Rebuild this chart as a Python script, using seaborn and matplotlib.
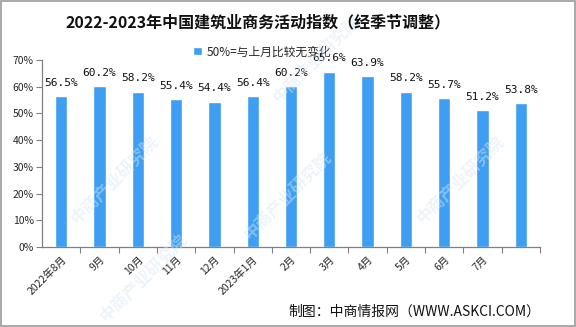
import matplotlib
matplotlib.use("Agg")
import matplotlib.pyplot as plt
import seaborn as sns
import pandas as pd

months = ["2022年8月", "9月", "10月", "11月", "12月", "2023年1月", "2月", "3月",
          "4月", "5月", "6月", "7月", ""]
values = [56.5, 60.2, 58.2, 55.4, 54.4, 56.4, 60.2, 65.6, 63.9, 58.2, 55.7, 51.2, 53.8]
labels = [f"{v}%" for v in values]

sns.set_theme(style="white")
plt.rcParams['font.family'] = ['Noto Sans CJK SC', 'DejaVu Sans']

fig = plt.figure(figsize=(5.76, 3.27), dpi=100)
ax = fig.add_axes([0.0729, 0.2446, 0.8646, 0.5719])

cats = [f"c{i}" for i in range(len(values))]
df = pd.DataFrame({"cat": cats, "val": values})
sns.barplot(data=df, x="cat", y="val", ax=ax, color="#3e9ef2", width=0.32,
            saturation=1, label="50%=与上月比较无变化")
ax.set_xlim(-0.5, len(values) - 0.5)
ax.set_ylim(0, 70)
ax.set_yticks(range(0, 71, 10))
ax.set_yticklabels([f"{t}%" for t in range(0, 71, 10)], fontsize=7.5)
ax.set_xticks(range(len(values)))
ax.set_xticklabels(months, rotation=45, ha="right",
                   rotation_mode="anchor", fontsize=7.5)
ax.tick_params(axis="x", length=0, pad=5)
ax.tick_params(axis="y", length=4, color="#808080", left=True, width=0.8, pad=2)
ax.set_xticks([i + 0.5 for i in range(len(values))], minor=True)
ax.tick_params(axis="x", which="minor", length=4, color="#808080", bottom=True, width=0.8)
ax.set_xlabel("")
ax.set_ylabel("")
for s in ["top", "right"]:
    ax.spines[s].set_visible(False)
for s in ["left", "bottom"]:
    ax.spines[s].set_color("#808080")
    ax.spines[s].set_linewidth(0.9)

for i, (v, lab) in enumerate(zip(values, labels)):
    ax.annotate(lab, (i, v), xytext=(0, 6), textcoords="offset points",
                ha="center", va="bottom", fontsize=8, color="#111111",
                family=["DejaVu Sans Mono"])

ax.legend(loc="center", bbox_to_anchor=(0.442, 1.043), frameon=False,
          fontsize=8.5, handlelength=0.7, handleheight=0.7, handletextpad=0.4)

fig.text(0.448, 0.933, "2022-2023年中国建筑业商务活动指数（经季节调整）",
         ha="center", va="center", fontsize=11.5, fontweight="bold", color="#111111")
fig.text(0.5, 0.048, "制图：中商情报网（WWW.ASKCI.COM）", ha="left", va="center",
         fontsize=10, color="#111111")

# faint watermarks
for (x, y) in [(0.2, 0.45), (0.5, 0.4), (0.8, 0.45), (0.55, 0.82), (0.25, 0.15)]:
    fig.text(x, y, "中商产业研究院", rotation=45, ha="center", va="center",
             fontsize=12, color="#d6e8f6", alpha=0.45, zorder=0, fontweight="bold")

border = plt.Rectangle((0.001, 0.002), 0.997, 0.995, transform=fig.transFigure,
                       fill=False, edgecolor="#9a9a9a", linewidth=1.2)
fig.patches.append(border)

fig.savefig("out.png", dpi=100)
